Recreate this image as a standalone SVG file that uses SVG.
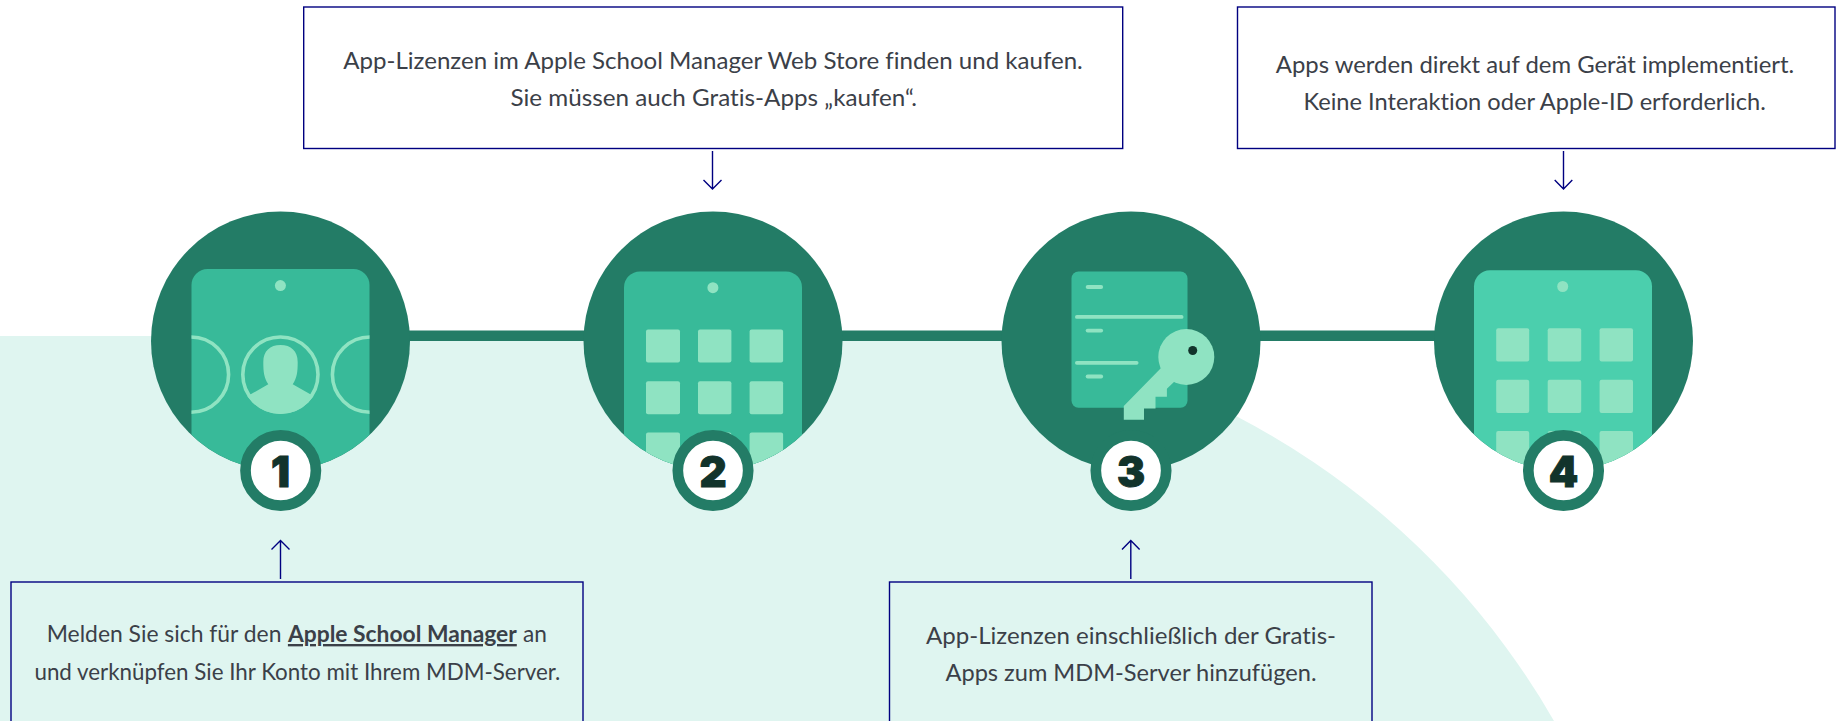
<svg xmlns="http://www.w3.org/2000/svg" width="1843" height="721" viewBox="0 0 1843 721">
<style>
.box{fill:none;stroke:#000080;stroke-width:1.4}
.arr{fill:none;stroke:#000080;stroke-width:1.4}
.bar{fill:#237c66}
.disc{fill:#237c66}
.lt{fill:#8fe3c2}
.txt{font-family:"Lato","Liberation Sans",sans-serif;font-size:23.6px;fill:#3b4048;text-anchor:middle;font-variant-ligatures:none}
.num{font-family:"Inter","Liberation Sans",sans-serif;font-size:42px;font-weight:900;fill:#12332b;stroke:#12332b;stroke-width:1;text-anchor:middle}
.ring{fill:#fff;stroke:#237c66;stroke-width:10.7}
</style>
<defs>
<clipPath id="c1"><circle cx="280.5" cy="341" r="129.5"/></clipPath>
<clipPath id="c2"><circle cx="713" cy="341" r="129.5"/></clipPath>
<clipPath id="c4"><circle cx="1563.5" cy="341" r="129.5"/></clipPath>
<clipPath id="p1"><rect x="191.5" y="269" width="178" height="220"/></clipPath>
<clipPath id="av"><circle cx="280.4" cy="374.6" r="39.4"/></clipPath>
</defs>
<path id="backdrop" d="M0 336H986A782 782 0 0 1 1554 721H0Z" fill="#dff5f0"/>
<g id="connectors">
<rect class="bar" x="400" y="330.5" width="1050" height="10.5"/>
<path class="arr" d="M280.5 579V541M271.5 549.5L280.5 540.5L289.5 549.5"/>
<path class="arr" d="M712.5 151V189M703.5 180L712.5 189L721.5 180"/>
<path class="arr" d="M1130.8 579V541M1122 549.5L1130.8 540.5L1139.6 549.5"/>
<path class="arr" d="M1563.5 151V189M1554.7 180L1563.5 189L1572.3 180"/>
</g>
<g id="node1">
<circle class="disc" cx="280.5" cy="341" r="129.5"/>
<g clip-path="url(#c1)">
<rect x="191.5" y="269" width="178" height="230" rx="16" fill="#38ba99"/>
<circle class="lt" cx="280.4" cy="285.6" r="5.5"/>
<g clip-path="url(#p1)" fill="none" stroke="#8fe3c2" stroke-width="3.6">
<circle cx="191" cy="374.6" r="37.6"/>
<circle cx="370" cy="374.6" r="37.6"/>
<circle cx="280.4" cy="374.6" r="37.6"/>
</g>
<path class="lt" clip-path="url(#av)" d="M268.3 384.3C264 378 263.3 372 263.3 362C263.3 351 270 345 280.5 345C291 345 297.7 351 297.7 362C297.7 372 297 378 292.7 384.3L322 401V420H239V401Z"/>
</g>
<circle class="ring" cx="280.7" cy="470.5" r="35.2"/>
<text class="num" x="280.5" y="487">1</text>
</g>
<g id="node2">
<circle class="disc" cx="713" cy="341" r="129.5"/>
<g clip-path="url(#c2)">
<rect x="624" y="271.4" width="178" height="230" rx="16" fill="#38ba99"/>
<circle class="lt" cx="712.9" cy="287.7" r="5.5"/>
<g class="lt">
<rect x="646" y="329.4" width="34" height="33.2" rx="2"/><rect x="698" y="329.4" width="33.4" height="33.2" rx="2"/><rect x="749.6" y="329.4" width="33.5" height="33.2" rx="2"/>
<rect x="646" y="381.2" width="34" height="33" rx="2"/><rect x="698" y="381.2" width="33.4" height="33" rx="2"/><rect x="749.6" y="381.2" width="33.5" height="33" rx="2"/>
<rect x="646" y="432.6" width="34" height="33" rx="2"/><rect x="698" y="432.6" width="33.4" height="33" rx="2"/><rect x="749.6" y="432.6" width="33.5" height="33" rx="2"/>
</g>
</g>
<circle class="ring" cx="713" cy="470.5" r="35.2"/>
<text class="num" x="713" y="487">2</text>
</g>
<g id="node3">
<circle class="disc" cx="1131" cy="341" r="129.5"/>
<rect x="1071.5" y="271.4" width="116" height="136.3" rx="7" fill="#38ba99"/>
<g class="lt">
<rect x="1085.7" y="285" width="17.4" height="4" rx="2"/>
<rect x="1075" y="315" width="108.5" height="3.8" rx="1.9"/>
<rect x="1085.7" y="328.7" width="17.4" height="3.8" rx="1.9"/>
<rect x="1075" y="361" width="63.5" height="3.7" rx="1.8"/>
<rect x="1085.7" y="374.6" width="17.4" height="3.8" rx="1.9"/>
<circle cx="1186.3" cy="357" r="28"/>
<path d="M1161 368L1123.8 406V419.8H1144V408.4H1155.5V396.7H1166.9V388.8L1175 381Z"/>
</g>
<circle cx="1192.7" cy="350.5" r="4.5" fill="#12332b"/>
<circle class="ring" cx="1131" cy="470.5" r="35.2"/>
<text class="num" x="1131" y="487">3</text>
</g>
<g id="node4">
<circle class="disc" cx="1563.5" cy="341" r="129.5"/>
<g clip-path="url(#c4)">
<rect x="1474" y="270.3" width="178" height="230" rx="16" fill="#4bcfad"/>
<circle class="lt" cx="1562.7" cy="286.5" r="5.5"/>
<g class="lt">
<rect x="1496.2" y="328.2" width="33" height="33.4" rx="2"/><rect x="1547.7" y="328.2" width="33.5" height="33.4" rx="2"/><rect x="1599.6" y="328.2" width="33.4" height="33.4" rx="2"/>
<rect x="1496.2" y="379.8" width="33" height="33.1" rx="2"/><rect x="1547.7" y="379.8" width="33.5" height="33.1" rx="2"/><rect x="1599.6" y="379.8" width="33.4" height="33.1" rx="2"/>
<rect x="1496.2" y="431" width="33" height="33" rx="2"/><rect x="1547.7" y="431" width="33.5" height="33" rx="2"/><rect x="1599.6" y="431" width="33.4" height="33" rx="2"/>
</g>
</g>
<circle class="ring" cx="1563.5" cy="470.5" r="35.2"/>
<text class="num" x="1563.5" y="487">4</text>
</g>
<g id="box-1">
<rect class="box" x="11" y="582" width="572" height="160"/>
<text class="txt" y="642" style="text-anchor:start"><tspan x="46.7" textLength="234.8" lengthAdjust="spacingAndGlyphs">Melden Sie sich für den</tspan><tspan x="287.9" textLength="228.9" lengthAdjust="spacingAndGlyphs" font-weight="700" text-decoration="underline">Apple School Manager</tspan><tspan x="523" textLength="23.9" lengthAdjust="spacingAndGlyphs">an</tspan></text>
<text class="txt" x="297.4" y="680" textLength="525.9" lengthAdjust="spacingAndGlyphs">und verknüpfen Sie Ihr Konto mit Ihrem MDM-Server.</text>
</g>
<g id="box-2">
<rect class="box" x="303.7" y="7" width="819" height="141.5"/>
<text class="txt" x="713" y="69" textLength="739.5" lengthAdjust="spacingAndGlyphs">App-Lizenzen im Apple School Manager Web Store finden und kaufen.</text>
<text class="txt" x="713.7" y="106" textLength="406.5" lengthAdjust="spacingAndGlyphs">Sie müssen auch Gratis-Apps „kaufen“.</text>
</g>
<g id="box-3">
<rect class="box" x="889.5" y="582" width="482.5" height="160"/>
<text class="txt" x="1131" y="644" textLength="410" lengthAdjust="spacingAndGlyphs">App-Lizenzen einschließlich der Gratis-</text>
<text class="txt" x="1131" y="681" textLength="371" lengthAdjust="spacingAndGlyphs">Apps zum MDM-Server hinzufügen.</text>
</g>
<g id="box-4">
<rect class="box" x="1237.5" y="7" width="597.5" height="141.5"/>
<text class="txt" x="1535" y="73" textLength="518.4" lengthAdjust="spacingAndGlyphs">Apps werden direkt auf dem Gerät implementiert.</text>
<text class="txt" x="1534.6" y="110" textLength="462.3" lengthAdjust="spacingAndGlyphs">Keine Interaktion oder Apple-ID erforderlich.</text>
</g>
</svg>
